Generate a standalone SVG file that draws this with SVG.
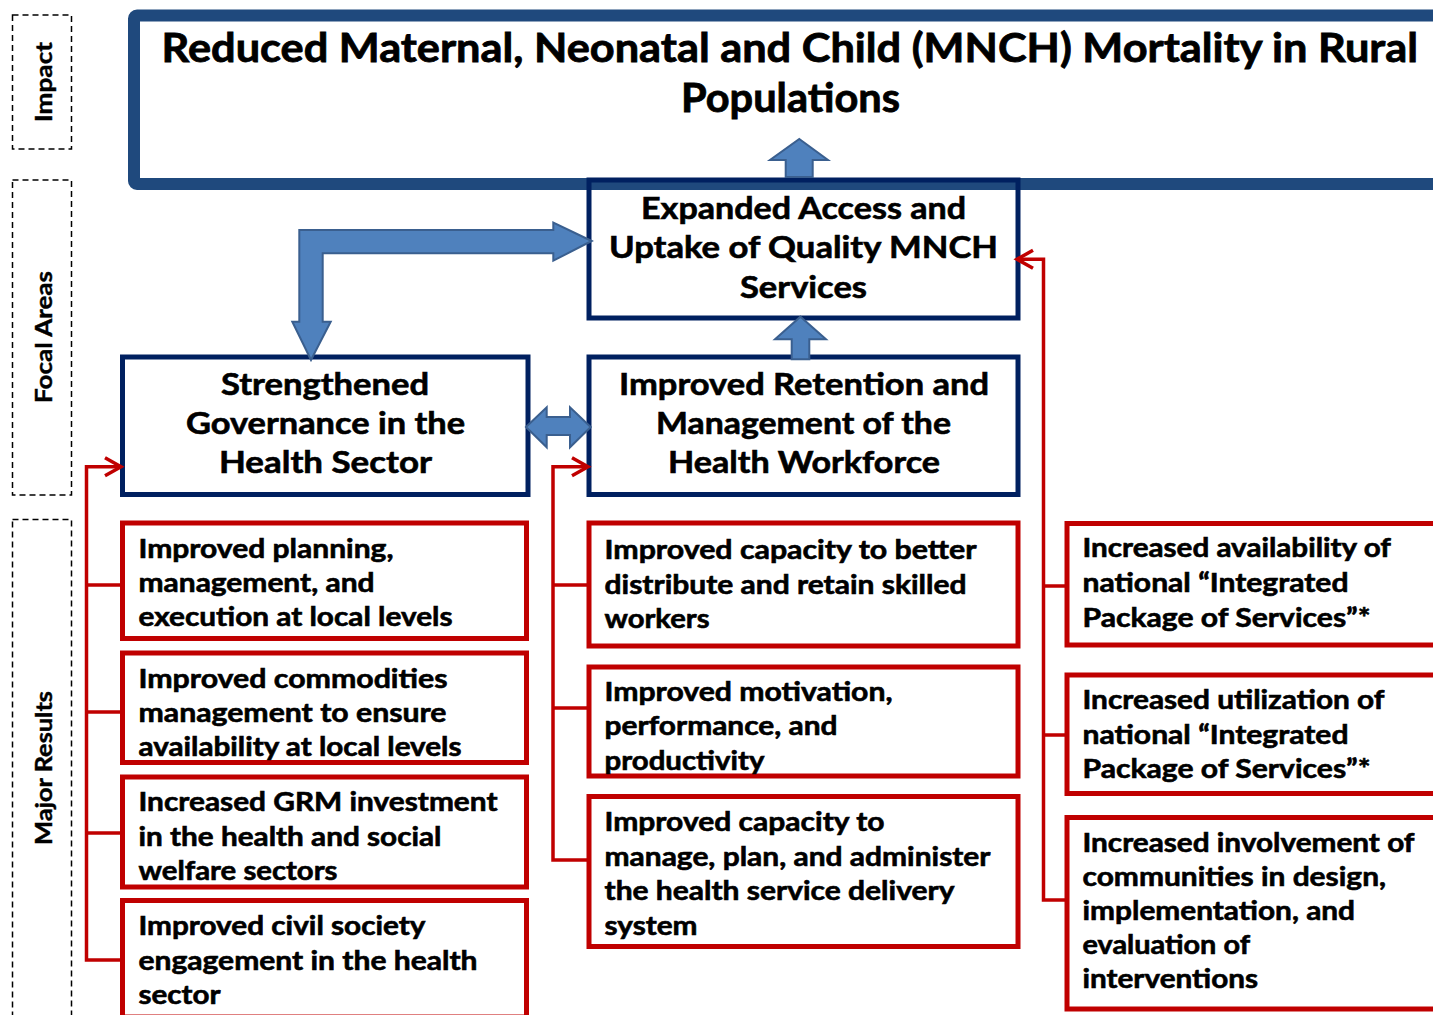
<svg xmlns="http://www.w3.org/2000/svg" width="1433" height="1015" viewBox="0 0 1433 1015">
  <defs>
    <style>
      .t { font-family: Lato, "Open Sans", "Liberation Sans", sans-serif; font-weight: 700; fill: #000; stroke: #000; stroke-width: 0.6px; }
      .title { font-size: 40px; stroke-width: 0.8px; }
      .focal { font-size: 30px; }
      .res { font-size: 26px; }
      .lbl { font-size: 23px; stroke-width: 0.4px; }
      .impact { fill: #fff; stroke: #1f497d; stroke-width: 12; }
      .fbox { fill: none; stroke: #002060; stroke-width: 5; }
      .rbox { fill: #fff; stroke: #c00000; stroke-width: 5; }
      .dash { fill: none; stroke: #000; stroke-width: 1.5; stroke-dasharray: 6 4; }
      .conn { fill: none; stroke: #c00000; stroke-width: 3.5; }
      .block { fill: #4f81bd; stroke: #3a5f8f; stroke-width: 2; stroke-linejoin: miter; }
    </style>
    <marker id="chev" markerUnits="userSpaceOnUse" markerWidth="24" markerHeight="24" viewBox="-20 -12 24 24" refX="0" refY="0" orient="auto" overflow="visible">
      <path d="M-16,-9 L0,0 L-16,9" fill="none" stroke="#c00000" stroke-width="3.5"/>
    </marker>
  </defs>

  <!-- level labels -->
  <g id="labels">
    <rect class="dash" x="12.5" y="15" width="59" height="134"/>
    <rect class="dash" x="12.5" y="180" width="59" height="315"/>
    <rect class="dash" x="12.5" y="519.5" width="59" height="520"/>
    <text class="t lbl" text-anchor="middle" transform="translate(52,82) rotate(-90)" textLength="80" lengthAdjust="spacingAndGlyphs">Impact</text>
    <text class="t lbl" text-anchor="middle" transform="translate(52,337) rotate(-90)" textLength="132" lengthAdjust="spacingAndGlyphs">Focal Areas</text>
    <text class="t lbl" text-anchor="middle" transform="translate(52,768) rotate(-90)" textLength="154" lengthAdjust="spacingAndGlyphs">Major Results</text>
  </g>

  <!-- impact -->
  <g id="impact">
    <rect class="impact" x="134" y="15.5" width="1320" height="168.5" rx="3"/>
    <text class="t title" x="161.5" y="62" textLength="1256.5" lengthAdjust="spacingAndGlyphs">Reduced Maternal, Neonatal and Child (MNCH) Mortality in Rural</text>
    <text class="t title" x="681" y="112" textLength="219" lengthAdjust="spacingAndGlyphs">Populations</text>
  </g>

  <!-- focal areas -->
  <g id="focal-access">
    <rect class="fbox" x="589" y="180" width="429" height="138"/>
    <text class="t focal" x="641" y="219" textLength="325" lengthAdjust="spacingAndGlyphs">Expanded Access and</text>
    <text class="t focal" x="609" y="258" textLength="389" lengthAdjust="spacingAndGlyphs">Uptake of Quality MNCH</text>
    <text class="t focal" x="740" y="298" textLength="127" lengthAdjust="spacingAndGlyphs">Services</text>
  </g>
  <g id="focal-governance">
    <rect class="fbox" x="122.5" y="357" width="405.5" height="137.5"/>
    <text class="t focal" x="221" y="395" textLength="208" lengthAdjust="spacingAndGlyphs">Strengthened</text>
    <text class="t focal" x="186" y="434" textLength="279" lengthAdjust="spacingAndGlyphs">Governance in the</text>
    <text class="t focal" x="219" y="473" textLength="213" lengthAdjust="spacingAndGlyphs">Health Sector</text>
  </g>
  <g id="focal-workforce">
    <rect class="fbox" x="589" y="357" width="429" height="137.5"/>
    <text class="t focal" x="619" y="395" textLength="370" lengthAdjust="spacingAndGlyphs">Improved Retention and</text>
    <text class="t focal" x="656" y="434" textLength="295" lengthAdjust="spacingAndGlyphs">Management of the</text>
    <text class="t focal" x="668" y="473" textLength="272" lengthAdjust="spacingAndGlyphs">Health Workforce</text>
  </g>

  <!-- major results, governance column -->
  <g id="res-planning">
    <rect class="rbox" x="122.5" y="523" width="404" height="115.5"/>
    <text class="t res" x="138.5" y="558" textLength="255" lengthAdjust="spacingAndGlyphs">Improved planning,</text>
    <text class="t res" x="138.5" y="592" textLength="236" lengthAdjust="spacingAndGlyphs">management, and</text>
    <text class="t res" x="138.5" y="626" textLength="314" lengthAdjust="spacingAndGlyphs">execution at local levels</text>
  </g>
  <g id="res-commodities">
    <rect class="rbox" x="122.5" y="653" width="404" height="109.5"/>
    <text class="t res" x="138.5" y="688" textLength="309" lengthAdjust="spacingAndGlyphs">Improved commodities</text>
    <text class="t res" x="138.5" y="722" textLength="308" lengthAdjust="spacingAndGlyphs">management to ensure</text>
    <text class="t res" x="138.5" y="756" textLength="323" lengthAdjust="spacingAndGlyphs">availability at local levels</text>
  </g>
  <g id="res-grm">
    <rect class="rbox" x="122.5" y="777" width="404" height="110"/>
    <text class="t res" x="138.5" y="811" textLength="359" lengthAdjust="spacingAndGlyphs">Increased GRM investment</text>
    <text class="t res" x="138.5" y="846" textLength="303" lengthAdjust="spacingAndGlyphs">in the health and social</text>
    <text class="t res" x="138.5" y="880" textLength="199" lengthAdjust="spacingAndGlyphs">welfare sectors</text>
  </g>
  <g id="res-civil">
    <rect class="rbox" x="122.5" y="900.5" width="404" height="116.5"/>
    <text class="t res" x="138.5" y="935" textLength="287" lengthAdjust="spacingAndGlyphs">Improved civil society</text>
    <text class="t res" x="138.5" y="970" textLength="339" lengthAdjust="spacingAndGlyphs">engagement in the health</text>
    <text class="t res" x="138.5" y="1004" textLength="82" lengthAdjust="spacingAndGlyphs">sector</text>
  </g>

  <!-- major results, workforce column -->
  <g id="res-distribute">
    <rect class="rbox" x="589" y="523" width="429" height="123"/>
    <text class="t res" x="604.5" y="559" textLength="372" lengthAdjust="spacingAndGlyphs">Improved capacity to better</text>
    <text class="t res" x="604.5" y="594" textLength="362" lengthAdjust="spacingAndGlyphs">distribute and retain skilled</text>
    <text class="t res" x="604.5" y="628" textLength="105" lengthAdjust="spacingAndGlyphs">workers</text>
  </g>
  <g id="res-motivation">
    <rect class="rbox" x="589" y="667" width="429" height="109"/>
    <text class="t res" x="604.5" y="701" textLength="288" lengthAdjust="spacingAndGlyphs">Improved motivation,</text>
    <text class="t res" x="604.5" y="735" textLength="233" lengthAdjust="spacingAndGlyphs">performance, and</text>
    <text class="t res" x="604.5" y="770" textLength="160" lengthAdjust="spacingAndGlyphs">productivity</text>
  </g>
  <g id="res-manage">
    <rect class="rbox" x="589" y="796.5" width="429" height="150"/>
    <text class="t res" x="604.5" y="831" textLength="280" lengthAdjust="spacingAndGlyphs">Improved capacity to</text>
    <text class="t res" x="604.5" y="866" textLength="386" lengthAdjust="spacingAndGlyphs">manage, plan, and administer</text>
    <text class="t res" x="604.5" y="900" textLength="350" lengthAdjust="spacingAndGlyphs">the health service delivery</text>
    <text class="t res" x="604.5" y="935" textLength="93" lengthAdjust="spacingAndGlyphs">system</text>
  </g>

  <!-- major results, access column -->
  <g id="res-availability">
    <rect class="rbox" x="1067" y="523.5" width="400" height="121.5"/>
    <text class="t res" x="1082.5" y="557" textLength="308.5" lengthAdjust="spacingAndGlyphs">Increased availability of</text>
    <text class="t res" x="1082.5" y="592" textLength="266" lengthAdjust="spacingAndGlyphs">national “Integrated</text>
    <text class="t res" x="1082.5" y="627" textLength="288" lengthAdjust="spacingAndGlyphs">Package of Services”*</text>
  </g>
  <g id="res-utilization">
    <rect class="rbox" x="1067" y="675" width="400" height="118.5"/>
    <text class="t res" x="1082.5" y="709" textLength="302" lengthAdjust="spacingAndGlyphs">Increased utilization of</text>
    <text class="t res" x="1082.5" y="744" textLength="266" lengthAdjust="spacingAndGlyphs">national “Integrated</text>
    <text class="t res" x="1082.5" y="778" textLength="288" lengthAdjust="spacingAndGlyphs">Package of Services”*</text>
  </g>
  <g id="res-communities">
    <rect class="rbox" x="1067" y="817.5" width="400" height="191.5"/>
    <text class="t res" x="1082.5" y="852" textLength="332" lengthAdjust="spacingAndGlyphs">Increased involvement of</text>
    <text class="t res" x="1082.5" y="886" textLength="303.5" lengthAdjust="spacingAndGlyphs">communities in design,</text>
    <text class="t res" x="1082.5" y="920" textLength="272.5" lengthAdjust="spacingAndGlyphs">implementation, and</text>
    <text class="t res" x="1082.5" y="954" textLength="167.5" lengthAdjust="spacingAndGlyphs">evaluation of</text>
    <text class="t res" x="1082.5" y="988" textLength="175.5" lengthAdjust="spacingAndGlyphs">interventions</text>
  </g>

  <!-- connectors -->
  <g id="connectors">
    <!-- results feeding the focal areas -->
    <path class="conn" d="M120,960 H86.5 V466.7 H121" marker-end="url(#chev)"/>
    <path class="conn" d="M86.5,585 H120 M86.5,712 H120 M86.5,833 H120"/>
    <path class="conn" d="M589,860 H553 V466.7 H588" marker-end="url(#chev)"/>
    <path class="conn" d="M553,585 H589 M553,708 H589"/>
    <path class="conn" d="M1067,900 H1043.5 V259.3 H1017" marker-end="url(#chev)"/>
    <path class="conn" d="M1043.5,586 H1067 M1043.5,735 H1067"/>
    <!-- block arrows between focal areas and impact -->
    <polygon class="block" points="799.3,139 828,160 812.7,160 812.7,177 785.7,177 785.7,160 770,160"/>
    <polygon class="block" points="800.5,316.7 826,339.3 809.3,339.3 809.3,359.3 791.7,359.3 791.7,339.3 775,339.3"/>
    <polygon class="block" points="526,427 546.7,407.3 546.7,417 570,417 570,407.3 590.7,427 570,447.3 570,435 546.7,435 546.7,447.3"/>
    <polygon class="block" points="591.7,241 553.3,222.7 553.3,230 299.3,230 299.3,321.7 292.3,321.7 311,360 330.7,321.7 322.7,321.7 322.7,253.3 553.3,253.3 553.3,260.7"/>
  </g>
</svg>
